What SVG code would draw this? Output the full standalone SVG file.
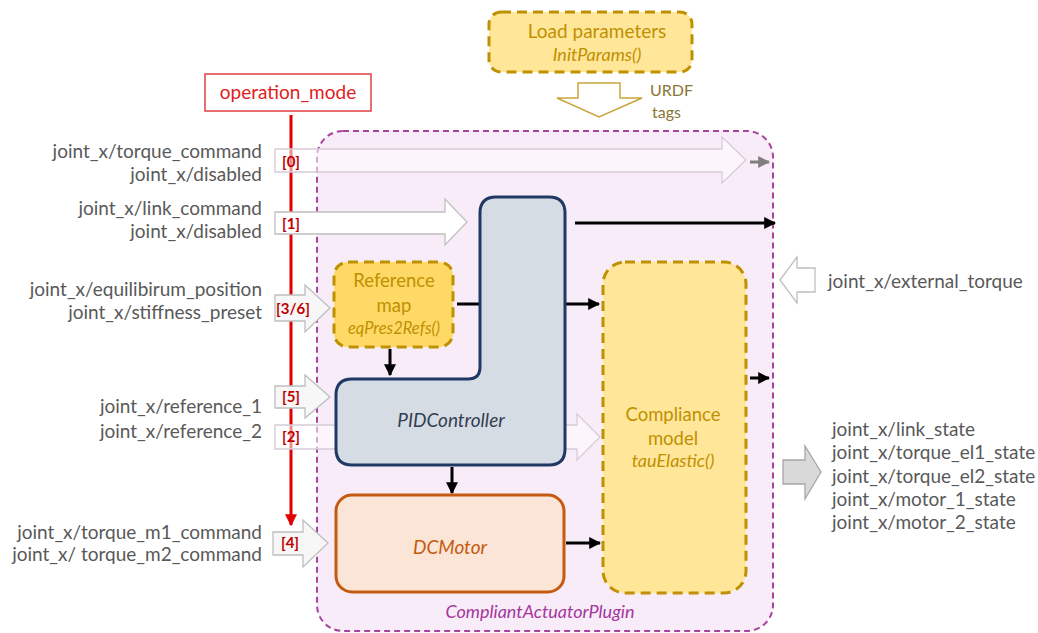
<svg xmlns="http://www.w3.org/2000/svg" width="1038" height="633" viewBox="0 0 1038 633">
<defs>
<style>
text{font-family:Lato,"Liberation Sans",sans-serif;}
.lbl{font-size:19px;fill:#595959;}
.lblr{font-size:19px;fill:#595959;text-anchor:end;}
.mode{font-size:15px;font-weight:bold;fill:#c00000;text-anchor:middle;}
.gold{fill:#ffe699;stroke:#bf9000;stroke-width:3;stroke-dasharray:10 6;}
.goldt{fill:#bf9000;text-anchor:middle;font-size:18.5px;}
.blk{stroke:#000;stroke-width:3;fill:none;}
.harrow{fill:#ffffff;stroke:#bfbfbf;stroke-width:1.3;}
.tarrow{fill:#ffffff;fill-opacity:0.55;stroke:#d6cbd6;stroke-width:1.3;}
</style>
<marker id="ah" viewBox="0 0 10 10" refX="9" refY="5" markerWidth="4" markerHeight="4" orient="auto" markerUnits="strokeWidth">
<path d="M0,0 L10,5 L0,10 Z" fill="#000"/>
</marker>
<marker id="ahg" viewBox="0 0 10 10" refX="9" refY="5" markerWidth="4" markerHeight="4" orient="auto" markerUnits="strokeWidth">
<path d="M0,0 L10,5 L0,10 Z" fill="#7f7f7f"/>
</marker>
<marker id="ahr" viewBox="0 0 10 10" refX="9" refY="5" markerWidth="4" markerHeight="4" orient="auto" markerUnits="strokeWidth">
<path d="M0,0 L10,5 L0,10 Z" fill="#e00000"/>
</marker>
</defs>

<g id="container">
<rect x="317" y="131" width="456" height="500" rx="26" fill="#f8ecf8" stroke="#a8449e" stroke-width="2" stroke-dasharray="6 4"/>
<text x="540" y="618" text-anchor="middle" font-size="18" font-style="italic" fill="#a5379d">CompliantActuatorPlugin</text>
</g>

<g id="load-params">
<rect x="489" y="12" width="203" height="60" rx="12" class="gold"/>
<text x="597" y="38" class="goldt" style="font-size:19px">Load parameters</text>
<text x="597" y="61" class="goldt" font-style="italic" style="font-size:18px">InitParams()</text>
<path d="M578,83 H620 V98 H642 L599,117 L557,98 H578 Z" fill="#ffffff" stroke="#c9a53a" stroke-width="1.5"/>
<text x="650" y="96" font-size="16" fill="#8a7535">URDF</text>
<text x="652" y="118" font-size="16" fill="#8a7535">tags</text>
</g>

<g id="operation-mode">
<rect x="205" y="74" width="166" height="37" fill="#ffffff" stroke="#e04040" stroke-width="1.5"/>
<text x="288" y="99" text-anchor="middle" font-size="19" fill="#e02020">operation_mode</text>
</g>

<g id="connectors">
<line x1="291" y1="115" x2="291" y2="525" stroke="#e00000" stroke-width="3" marker-end="url(#ahr)"/>
<path class="tarrow" d="M275,149 H722 V137 L746,160 L722,183 V172 H275 Z"/>
<path class="harrow" d="M275,212 H445 V199 L467,222 L445,245 V234 H275 Z"/>
<path class="harrow" d="M275,295 H305 V285 L330,308 L305,332 V321 H275 Z" style="fill:#f7f7f7"/>
<path class="harrow" d="M275,386 H305 V375 L330,397 L305,418 V408 H275 Z" style="fill:#f7f7f7"/>
<path class="tarrow" d="M275,425 H577 V414 L600,437 L577,460 V449 H275 Z"/>
<path class="harrow" d="M273,532 H303 V520 L328,543 L303,567 V555 H273 Z" style="fill:#f7f7f7"/>
<path class="harrow" d="M815,268 H797 V257 L780,280 L797,303 V292 H815 Z"/>
<path d="M783,460 H805 V446 L821,472 L805,499 V484 H783 Z" fill="#d9d9d9" stroke="#a6a6a6" stroke-width="1.3"/>
<line class="blk" x1="575" y1="223" x2="775" y2="223" marker-end="url(#ah)"/>
<line x1="750" y1="162" x2="769" y2="162" stroke="#7f7f7f" stroke-width="3" marker-end="url(#ahg)"/>
<line class="blk" x1="457" y1="304" x2="481" y2="304"/>
<line class="blk" x1="565" y1="304" x2="599" y2="304" marker-end="url(#ah)"/>
<line class="blk" x1="390" y1="349" x2="390" y2="375" marker-end="url(#ah)"/>
<line class="blk" x1="452" y1="467" x2="452" y2="493" marker-end="url(#ah)"/>
<line class="blk" x1="566" y1="543" x2="600" y2="543" marker-end="url(#ah)"/>
<line class="blk" x1="750" y1="378" x2="769" y2="378" marker-end="url(#ah)"/>
</g>

<g id="mode-labels">
<text x="291" y="167" class="mode">[0]</text>
<text x="291" y="229" class="mode">[1]</text>
<text x="293" y="314" class="mode">[3/6]</text>
<text x="291" y="402" class="mode">[5]</text>
<text x="291" y="442" class="mode">[2]</text>
<text x="290" y="548" class="mode">[4]</text>
</g>

<g id="input-labels">
<text x="262" y="158" class="lblr">joint_x/torque_command</text>
<text x="262" y="181" class="lblr">joint_x/disabled</text>
<text x="262" y="215" class="lblr">joint_x/link_command</text>
<text x="262" y="238" class="lblr">joint_x/disabled</text>
<text x="262" y="296" class="lblr">joint_x/equilibirum_position</text>
<text x="262" y="319" class="lblr">joint_x/stiffness_preset</text>
<text x="262" y="413" class="lblr">joint_x/reference_1</text>
<text x="262" y="438" class="lblr">joint_x/reference_2</text>
<text x="262" y="539" class="lblr">joint_x/torque_m1_command</text>
<text x="262" y="561" class="lblr">joint_x/ torque_m2_command</text>
</g>

<g id="output-labels">
<text x="828" y="288" class="lbl">joint_x/external_torque</text>
<text x="832" y="436" class="lbl">joint_x/link_state</text>
<text x="832" y="459" class="lbl">joint_x/torque_el1_state</text>
<text x="832" y="483" class="lbl">joint_x/torque_el2_state</text>
<text x="832" y="506" class="lbl">joint_x/motor_1_state</text>
<text x="832" y="529" class="lbl">joint_x/motor_2_state</text>
</g>

<g id="reference-map">
<rect x="334" y="262" width="119" height="85" rx="14" class="gold" style="fill:#ffd966"/>
<text x="394" y="287" class="goldt">Reference</text>
<text x="394" y="312" class="goldt">map</text>
<text x="394" y="334" class="goldt" font-style="italic" style="font-size:16.5px">eqPres2Refs()</text>
</g>

<g id="pid-controller">
<path d="M496,197 H549 Q565,197 565,213 V449 Q565,465 549,465 H352 Q336,465 336,449 V395 Q336,379 352,379 H468 Q480,379 480,367 V213 Q480,197 496,197 Z" fill="#d6dce4" stroke="#1f3864" stroke-width="3"/>
<text x="451" y="427" text-anchor="middle" font-size="19" font-style="italic" fill="#333f50">PIDController</text>
</g>

<g id="dc-motor">
<rect x="336" y="495" width="228" height="97" rx="16" fill="#fbe5d6" stroke="#c55a11" stroke-width="3"/>
<text x="450" y="554" text-anchor="middle" font-size="19" font-style="italic" fill="#c55a11">DCMotor</text>
</g>

<g id="compliance-model">
<rect x="603" y="262" width="143" height="331" rx="22" class="gold"/>
<text x="673" y="421" class="goldt">Compliance</text>
<text x="673" y="445" class="goldt">model</text>
<text x="673" y="467" class="goldt" font-style="italic" style="font-size:18px">tauElastic()</text>
</g>
</svg>
